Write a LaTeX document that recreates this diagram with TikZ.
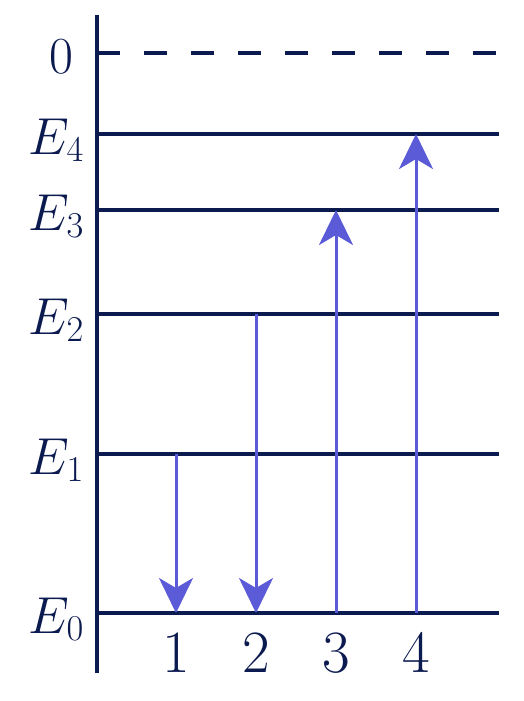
\RequirePackage{fix-cm}
\documentclass[tikz,border=0pt]{standalone}
\usetikzlibrary{arrows.meta}
\definecolor{navy}{HTML}{0B1A4F}
\definecolor{arrowblue}{HTML}{5B5BD8}
\begin{document}
\begin{tikzpicture}[x=1pt,y=-1pt,
  level/.style={draw=navy,line width=3.5pt},
  axisline/.style={draw=navy,line width=4pt},
  trans/.style={draw=arrowblue,line width=3pt,-{Stealth[length=35pt,width=34pt,inset=10pt]}},
  elabel/.style={text=navy,anchor=base east,inner sep=0pt,font=\fontsize{52}{58}\selectfont},
  nlabel/.style={text=navy,anchor=base,inner sep=0pt,font=\fontsize{60}{64}\selectfont}]
\useasboundingbox (0,0) rectangle (523,701);
% axis
\coordinate (atop) at (97,15);
\coordinate (abot) at (97,673);
\draw[axisline] (atop) -- (abot);
% levels
\coordinate (z0) at (97,53);   \coordinate (z1) at (499,53);
\coordinate (l4a) at (97,134); \coordinate (l4b) at (499,134);
\coordinate (l3a) at (97,210); \coordinate (l3b) at (499,210);
\coordinate (l2a) at (97,314); \coordinate (l2b) at (499,314);
\coordinate (l1a) at (97,454); \coordinate (l1b) at (499,454);
\coordinate (l0a) at (97,613); \coordinate (l0b) at (499,613);
\draw[level,dash pattern=on 23pt off 24pt] (z0) -- (z1);
\draw[level] (l4a) -- (l4b);
\draw[level] (l3a) -- (l3b);
\draw[level] (l2a) -- (l2b);
\draw[level] (l1a) -- (l1b);
\draw[level] (l0a) -- (l0b);
% labels
\node[elabel] (lz) at (74,74) {$0$};
\node[elabel] (le4) at (84,154) {$E_4$};
\node[elabel] (le3) at (84,230) {$E_3$};
\node[elabel] (le2) at (84,334) {$E_2$};
\node[elabel] (le1) at (84,474) {$E_1$};
\node[elabel] (le0) at (84,633) {$E_0$};
% transitions
\coordinate (a1s) at (176,454); \coordinate (a1e) at (176,613);
\coordinate (a2s) at (256,314); \coordinate (a2e) at (256,613);
\coordinate (a3s) at (336,613); \coordinate (a3e) at (336,210);
\coordinate (a4s) at (416,613); \coordinate (a4e) at (416,134);
\draw[trans] (a1s) -- (a1e);
\draw[trans] (a2s) -- (a2e);
\draw[trans] (a3s) -- (a3e);
\draw[trans] (a4s) -- (a4e);
\node[nlabel] (n1) at (176,672) {1};
\node[nlabel] (n2) at (256,672) {2};
\node[nlabel] (n3) at (336,672) {3};
\node[nlabel] (n4) at (416,672) {4};
\end{tikzpicture}
\end{document}
